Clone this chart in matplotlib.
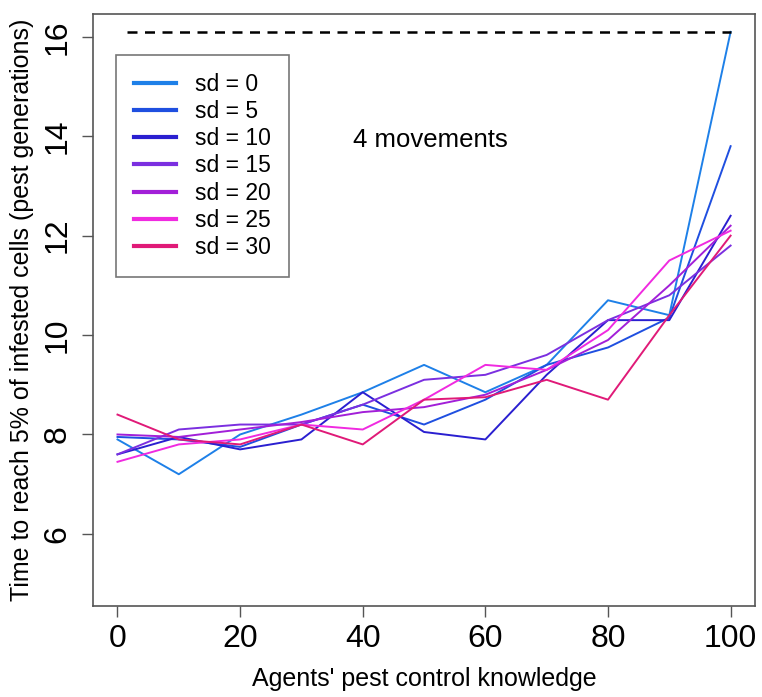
import matplotlib
matplotlib.use("Agg")
import matplotlib.pyplot as plt

plt.rcParams['font.family'] = ['Liberation Sans', 'DejaVu Sans']

knowledge = [0, 10, 20, 30, 40, 50, 60, 70, 80, 90, 100]
sd_labels = ["sd = 0", "sd = 5", "sd = 10", "sd = 15", "sd = 20", "sd = 25", "sd = 30"]
sd0 = [7.9, 7.2, 8.0, 8.4, 8.85, 9.4, 8.85, 9.4, 10.7, 10.4, 16.1]
sd5 = [7.95, 7.9, 7.75, 8.2, 8.6, 8.2, 8.7, 9.4, 9.75, 10.35, 13.8]
sd10 = [7.6, 7.95, 7.7, 7.9, 8.85, 8.05, 7.9, 9.2, 10.3, 10.3, 12.4]
sd15 = [7.6, 8.1, 8.2, 8.2, 8.6, 9.1, 9.2, 9.6, 10.3, 10.8, 11.8]
sd20 = [8.0, 7.95, 8.1, 8.25, 8.45, 8.55, 8.8, 9.3, 9.9, 11.0, 12.2]
sd25 = [7.45, 7.8, 7.9, 8.2, 8.1, 8.7, 9.4, 9.3, 10.1, 11.5, 12.1]
sd30 = [8.4, 7.9, 7.8, 8.2, 7.8, 8.7, 8.75, 9.1, 8.7, 10.4, 12.0]
series = [sd0, sd5, sd10, sd15, sd20, sd25, sd30]
colors = ['#1E80E8', '#1F4FE0', '#2A1FD0', '#7B2FE0', '#A21FD8', '#F02AE0', '#E01A78']

fig = plt.figure(figsize=(7.62, 6.97), dpi=100)
ax = fig.add_axes([0.122, 0.1306, 0.869, 0.8494])

for vals, c, lab in zip(series, colors, sd_labels):
    ax.plot(knowledge, vals, color=c, lw=1.4, label=lab)

# reference level: max time
top = max(sd0)
ax.plot([1.5, 100], [top, top], color='black', lw=1.8, ls=(0, (4, 3)))

ax.text(51, 13.93, "4 movements", ha='center', va='center', fontsize=18.5)

ax.set_xlim(-4, 104)
ax.set_ylim(4.55, 16.46)
ax.set_xticks([0, 20, 40, 60, 80, 100])
ax.set_yticks([6, 8, 10, 12, 14, 16])
ax.tick_params(axis='both', direction='out', length=8, width=1, color='#555555',
               labelsize=23, pad=5)
ax.tick_params(axis='y', pad=7)
for lbl in ax.get_yticklabels():
    lbl.set_rotation(90)
    lbl.set_va('center')
for s in ax.spines.values():
    s.set_color('#555555')
    s.set_linewidth(1.2)

ax.set_xlabel("Agents' pest control knowledge", fontsize=18, labelpad=9)
ax.set_ylabel("Time to reach 5% of infested cells (pest generations)", fontsize=18, labelpad=6)

leg = ax.legend(loc='upper left', bbox_to_anchor=(0.035, 0.931), borderaxespad=0,
                fontsize=16.5, frameon=True, fancybox=False, edgecolor='#555555',
                handlelength=1.8, handletextpad=0.85, labelspacing=0.18, borderpad=0.8)
leg.get_frame().set_linewidth(1.2)
for h in leg.get_lines():
    h.set_linewidth(3)

fig.savefig("out.png", dpi=100)
